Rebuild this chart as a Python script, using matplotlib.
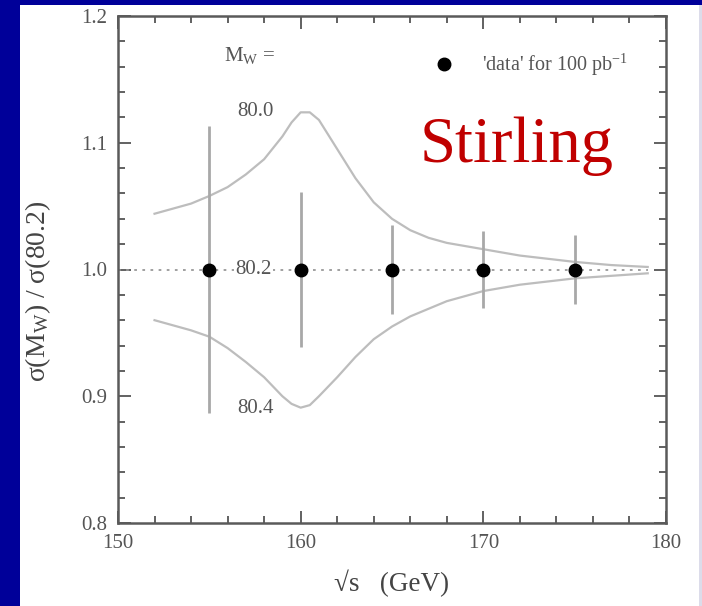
import matplotlib
matplotlib.use("Agg")
import matplotlib.pyplot as plt
from matplotlib.lines import Line2D
from matplotlib.patches import Rectangle
from matplotlib.ticker import MultipleLocator

plt.rcParams['font.family'] = ['Liberation Serif', 'DejaVu Serif']
plt.rcParams['mathtext.fontset'] = 'custom'
plt.rcParams['mathtext.rm'] = 'Liberation Serif'
plt.rcParams['mathtext.it'] = 'Liberation Serif:italic'

# 'data' points for 100 pb^-1
data_x = [155, 160, 165, 170, 175]
data_y = [1.0, 1.0, 1.0, 1.0, 1.0]
data_err = [0.113, 0.061, 0.035, 0.030, 0.027]

# M_W = 80.0 curve
up_x = [152, 153, 154, 155, 156, 157, 158, 159, 159.5, 160, 160.5, 161, 162,
        163, 164, 165, 166, 167, 168, 170, 172, 175, 177, 179]
up_y = [1.044, 1.048, 1.052, 1.058, 1.065, 1.075, 1.087, 1.105, 1.116, 1.124,
        1.124, 1.118, 1.095, 1.072, 1.053, 1.040, 1.031, 1.025, 1.021, 1.016,
        1.011, 1.006, 1.0035, 1.002]

# M_W = 80.4 curve
lo_x = [152, 153, 154, 155, 156, 157, 158, 159, 159.5, 160, 160.5, 161, 162,
        163, 164, 165, 166, 167, 168, 170, 172, 175, 177, 179]
lo_y = [0.960, 0.956, 0.952, 0.947, 0.938, 0.927, 0.915, 0.900, 0.894, 0.891,
        0.893, 0.900, 0.915, 0.931, 0.945, 0.955, 0.963, 0.969, 0.975, 0.983,
        0.988, 0.993, 0.995, 0.997]

# M_W = 80.2 reference
ref_level = 1.0
ref_x = [150, 179]

fig = plt.figure(figsize=(7.02, 6.06), dpi=100, facecolor='#000099')
fig.patches.append(Rectangle((20 / 702, 0), 1, 601 / 606, transform=fig.transFigure,
                             facecolor='white', edgecolor='none', zorder=-10))
fig.patches.append(Rectangle((699 / 702, 0), 3 / 702, 601 / 606, transform=fig.transFigure,
                             facecolor='#dcdcea', edgecolor='none', zorder=-10))

ax = fig.add_axes([118 / 702, 83 / 606, 548 / 702, 507 / 606])
ax.set_facecolor('white')

ax.plot(up_x, up_y, color='#bdbdbd', lw=1.6)
ax.plot(lo_x, lo_y, color='#bdbdbd', lw=1.6)
ax.hlines(ref_level, ref_x[0], ref_x[1], colors='#999999', linestyles=(0, (1.5, 3)), lw=1.3)
ax.errorbar(data_x, data_y, yerr=data_err, fmt='o', color='black', ms=9,
            ecolor='#a8a8a8', elinewidth=2, capsize=0, zorder=5)

ax.set_xlim(150, 180)
ax.set_ylim(0.8, 1.2)
ax.xaxis.set_major_locator(MultipleLocator(10))
ax.xaxis.set_minor_locator(MultipleLocator(2))
ax.yaxis.set_major_locator(MultipleLocator(0.1))
ax.yaxis.set_minor_locator(MultipleLocator(0.02))
ax.yaxis.set_major_formatter(plt.FuncFormatter(lambda v, p: f'{v:.1f}'))

tc = '#555555'
ax.tick_params(which='both', direction='in', top=True, right=True, color=tc,
               labelcolor=tc, labelsize=15, width=1.3)
ax.tick_params(which='major', length=9, pad=8)
ax.tick_params(which='minor', length=5)
for s in ax.spines.values():
    s.set_color('#5a5a5a')
    s.set_linewidth(1.8)

ax.set_xlabel('√s   (GeV)', fontsize=19.5, color='#444444', labelpad=12)
ax.set_ylabel(r'σ(M$_{\rm W}$) / σ(80.2)', fontsize=20, color='#444444')
ax.yaxis.set_label_coords(-0.119, 0.458)

txt = dict(color='#555555', fontsize=15)
ax.text(155.8, 1.169, r'M$_{\rm W}$ =', ha='left', va='center', **txt)
ax.text(157.5, 1.125, '80.0', ha='center', va='center', **txt)
ax.text(157.4, 1.0, '80.2', ha='center', va='center',
        bbox=dict(facecolor='white', edgecolor='none', pad=1), **txt)
ax.text(157.5, 0.89, '80.4', ha='center', va='center', **txt)

handle = Line2D([], [], marker='o', color='black', ls='none', ms=9)
ax.legend([handle], [r"'data' for 100 pb$^{-1}$"], loc='upper right',
          bbox_to_anchor=(0.945, 0.945), frameon=False, fontsize=14.5,
          labelcolor='#555555', handletextpad=0.9, borderaxespad=0)

ax.text(171.8, 1.097, 'Stirling', color='#c00000', fontsize=46.5, ha='center', va='center')

fig.savefig('out.png', dpi=100, facecolor=fig.get_facecolor())
